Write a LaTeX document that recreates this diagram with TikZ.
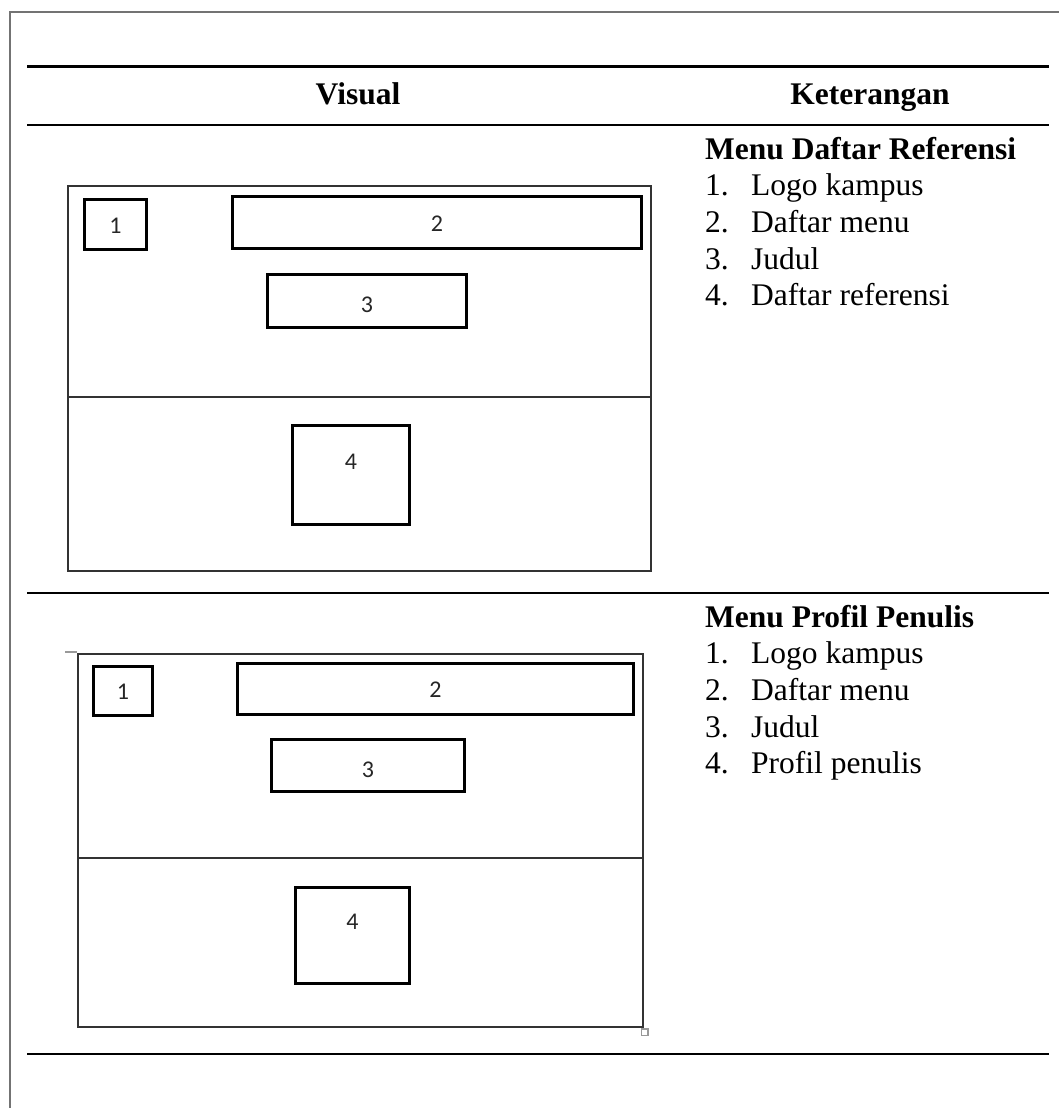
\documentclass[tikz,border=0pt]{standalone}
\usepackage{fontspec}
\setmainfont{Liberation Serif}
\newfontfamily\wirefont{Carlito}
\usetikzlibrary{positioning}

\tikzset{
  frameline/.style={draw=black!55, line width=2pt},
  rulethick/.style={draw=black, line width=3pt},
  rulemid/.style={draw=black, line width=2.5pt},
  screen/.style={draw=black!80, line width=1.8pt, rectangle, inner sep=0pt, anchor=north west},
  part/.style={draw=black, line width=3pt, rectangle, inner sep=0pt, anchor=north west},
  partnum/.style={font=\wirefont\fontsize{24}{28}\selectfont, text=black!85, inner sep=0pt},
  headtext/.style={font=\bfseries\fontsize{31.5}{36}\selectfont, anchor=base, inner sep=0pt},
  titletext/.style={font=\bfseries\fontsize{31.5}{36}\selectfont, anchor=base west, inner sep=0pt},
  itemtext/.style={font=\fontsize{31.5}{36}\selectfont, anchor=base west, inner sep=0pt},
  handle/.style={draw=black!40, line width=1.2pt}
}

\begin{document}
\begin{tikzpicture}[x=1pt, y=-1pt]
  \useasboundingbox (0,0) rectangle (1059,1108);

  % page frame
  \draw[frameline] (1070,12) -- (10,12) -- (10,1120);

  % table rules
  \coordinate (topL) at (27,67);   \coordinate (topR) at (1049,67);
  \coordinate (hdL) at (27,125);   \coordinate (hdR) at (1049,125);
  \coordinate (midL) at (27,593);  \coordinate (midR) at (1049,593);
  \coordinate (botL) at (27,1054); \coordinate (botR) at (1049,1054);
  \draw[rulethick] (topL) -- (topR);
  \draw[rulemid] (hdL) -- (hdR);
  \draw[rulemid] (midL) -- (midR);
  \draw[rulemid] (botL) -- (botR);

  % header
  \node[headtext] (hvis) at (358,104) {Visual};
  \node[headtext] (hket) at (870,104) {Keterangan};

  % ---- row 1: reference list screen ----
  \node[screen, minimum width=583pt, minimum height=385pt] (s1) at (67,185) {};
  \coordinate (s1dL) at (67,397); \coordinate (s1dR) at (650,397);
  \draw[draw=black!80, line width=1.6pt] (s1dL) -- (s1dR);
  \node[part, minimum width=62pt, minimum height=50pt] (s1a) at (83,198) {};
  \node[partnum] at ([yshift=-1pt]s1a.center) {1};
  \node[part, minimum width=409pt, minimum height=52pt] (s1b) at (231,195) {};
  \node[partnum] at ([yshift=-1pt]s1b.center) {2};
  \node[part, minimum width=199pt, minimum height=53pt] (s1c) at (266,273) {};
  \node[partnum] at ([yshift=-4pt]s1c.center) {3};
  \node[part, minimum width=117pt, minimum height=99pt] (s1d) at (291,424) {};
  \node[partnum] at ([yshift=-38pt]s1d.north) {4};

  \node[titletext] (t1) at (705,159) {Menu Daftar Referensi};
  \foreach \n/\txt [count=\i] in {1/Logo kampus, 2/Daftar menu, 3/Judul, 4/Daftar referensi}{
    \node[itemtext] (n1\i) at (705,159+36.7*\i) {\n.};
    \node[itemtext] (i1\i) at (751,159+36.7*\i) {\txt};
  }

  % ---- row 2: author profile screen ----
  \node[screen, minimum width=565pt, minimum height=373pt] (s2) at (77,653) {};
  \coordinate (s2dL) at (77,858); \coordinate (s2dR) at (642,858);
  \draw[draw=black!80, line width=1.6pt] (s2dL) -- (s2dR);
  \node[part, minimum width=59pt, minimum height=49pt] (s2a) at (92,665) {};
  \node[partnum] at ([yshift=-1pt]s2a.center) {1};
  \node[part, minimum width=396pt, minimum height=51pt] (s2b) at (236,662) {};
  \node[partnum] at ([yshift=-1pt]s2b.center) {2};
  \node[part, minimum width=193pt, minimum height=52pt] (s2c) at (270,738) {};
  \node[partnum] at ([yshift=-4pt]s2c.center) {3};
  \node[part, minimum width=114pt, minimum height=96pt] (s2d) at (294,886) {};
  \node[partnum] at ([yshift=-36pt]s2d.north) {4};

  % selection handles left on the drawing object
  \coordinate (hk1) at (65,652); \coordinate (hk2) at (77,652);
  \draw[handle] (hk1) -- (hk2);
  \draw[handle] (641.5,1029) rectangle (648,1035.5);

  \node[titletext] (t2) at (705,627) {Menu Profil Penulis};
  \foreach \n/\txt [count=\i] in {1/Logo kampus, 2/Daftar menu, 3/Judul, 4/Profil penulis}{
    \node[itemtext] (n2\i) at (705,627+36.7*\i) {\n.};
    \node[itemtext] (i2\i) at (751,627+36.7*\i) {\txt};
  }
\end{tikzpicture}
\end{document}
